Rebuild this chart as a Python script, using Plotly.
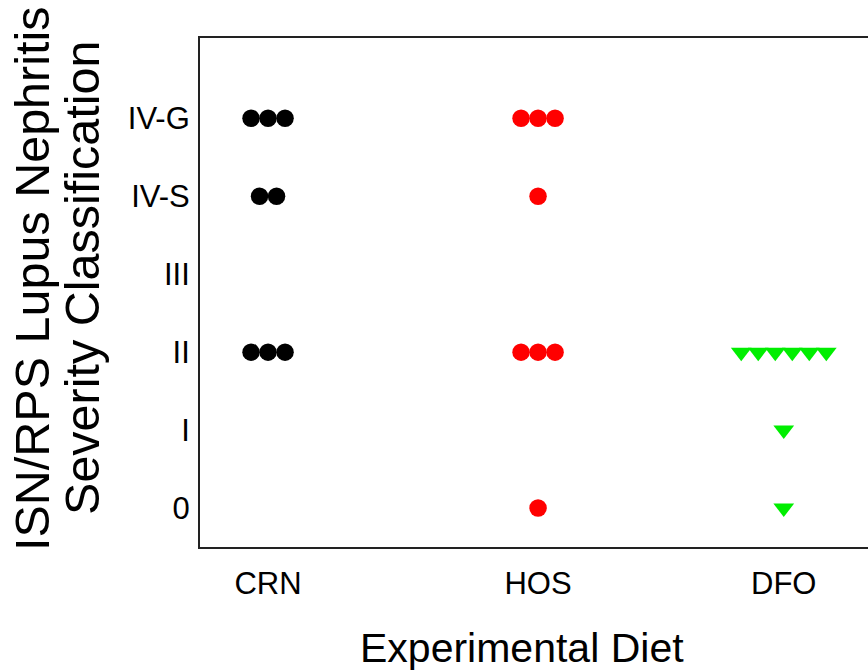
import plotly.graph_objects as go

# ---- data ----
diets = ["CRN", "HOS", "DFO"]
diet_pos = [1.0, 2.0, 2.91]
grades = ["0", "I", "II", "III", "IV-S", "IV-G"]
# number of animals per grade (index aligned with grades)
crn_counts = [0, 0, 3, 0, 2, 3]
hos_counts = [1, 0, 3, 0, 1, 3]
dfo_counts = [1, 1, 6, 0, 0, 0]

colors = ["#000000", "#ff0000", "#00ee00"]
symbols = ["circle", "circle", "triangle-down"]
sizes = [17.5, 17.5, 18]
dot_step = 0.063

fig = go.Figure()
for name, pos, counts, col, sym, sz in zip(diets, diet_pos,
                                           [crn_counts, hos_counts, dfo_counts],
                                           colors, symbols, sizes):
    xs, ys = [], []
    for gi, n in enumerate(counts):
        for k in range(n):
            xs.append(pos + dot_step * (k - (n - 1) / 2))
            ys.append(gi)
    fig.add_trace(go.Scatter(x=xs, y=ys, mode="markers", name=name,
                             marker=dict(color=col, symbol=sym, size=sz,
                                         line=dict(width=0)),
                             showlegend=False))

font = "Liberation Sans, Arial, sans-serif"
fig.update_layout(
    width=868, height=672,
    margin=dict(l=200, r=0, t=38, b=125),
    plot_bgcolor="white", paper_bgcolor="white",
    font=dict(family=font, color="black"),
)
fig.update_xaxes(range=[0.748, 3.222], tickvals=diet_pos, ticktext=diets,
                 showgrid=False, zeroline=False, showline=True,
                 linecolor="#222", linewidth=2, mirror=True, ticks="",
                 tickfont=dict(size=31), ticklabelstandoff=8)
fig.update_yaxes(range=[-0.5, 6.03], tickvals=list(range(len(grades))),
                 ticktext=grades, showgrid=False, zeroline=False,
                 showline=True, linecolor="#222", linewidth=2, ticks="",
                 tickfont=dict(size=31), ticklabelstandoff=2)

fig.add_annotation(text="ISN/RPS Lupus Nephritis", xref="paper", yref="paper",
                   x=-0.2515, y=0.5285, xanchor="center", yanchor="middle",
                   textangle=-90, showarrow=False, font=dict(size=48.5))
fig.add_annotation(text="Severity Classification", xref="paper", yref="paper",
                   x=-0.1767, y=0.5285, xanchor="center", yanchor="middle",
                   textangle=-90, showarrow=False, font=dict(size=48.5))
fig.add_annotation(text="Experimental Diet", xref="paper", yref="paper",
                   x=0.482, y=-0.198, xanchor="center", yanchor="middle",
                   showarrow=False, font=dict(size=41))

fig.write_html("out.html")
